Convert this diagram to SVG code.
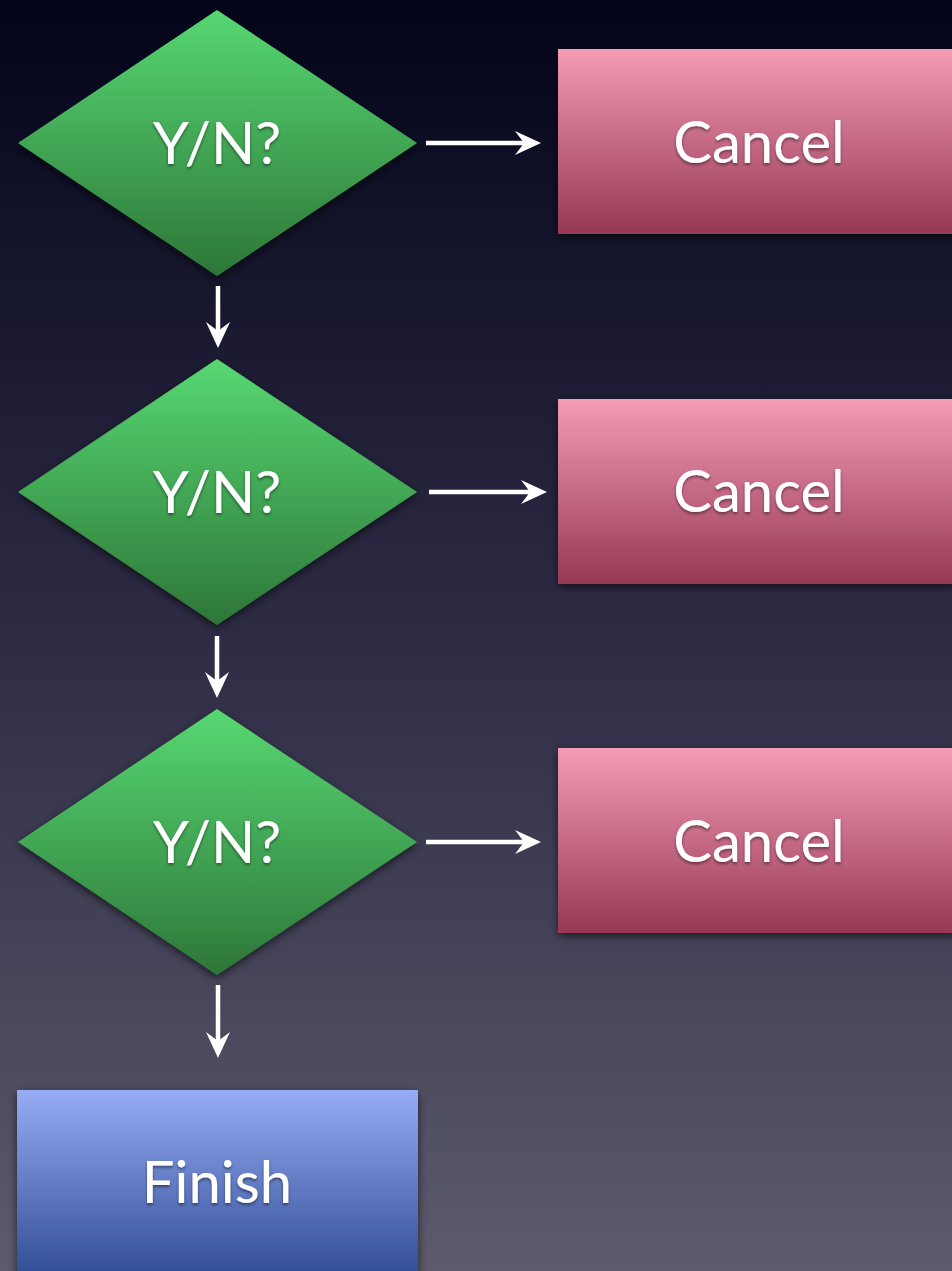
<svg xmlns="http://www.w3.org/2000/svg" width="952" height="1271" viewBox="0 0 952 1271">
<defs>
<linearGradient id="bg" x1="0" y1="0" x2="0" y2="1"><stop offset="0" stop-color="#03041a"/><stop offset="0.5" stop-color="#2e2c45"/><stop offset="1" stop-color="#5c5a6c"/></linearGradient>
<linearGradient id="gd" x1="0" y1="0" x2="0" y2="1"><stop offset="0" stop-color="#57d873"/><stop offset="1" stop-color="#2d7637"/></linearGradient>
<linearGradient id="rd" x1="0" y1="0" x2="0" y2="1"><stop offset="0" stop-color="#f49bb6"/><stop offset="1" stop-color="#963853"/></linearGradient>
<linearGradient id="bl" x1="0" y1="0" x2="0" y2="1"><stop offset="0" stop-color="#97acf4"/><stop offset="1" stop-color="#2e4b92"/></linearGradient>
<filter id="sh" x="-10%" y="-10%" width="120%" height="125%"><feDropShadow dx="0" dy="3" stdDeviation="4" flood-color="#000" flood-opacity="0.6"/></filter>
<filter id="ts" x="-10%" y="-20%" width="120%" height="140%"><feDropShadow dx="0" dy="2" stdDeviation="1.5" flood-color="#000" flood-opacity="0.45"/></filter>
<marker id="ah" markerWidth="26" markerHeight="24" refX="12" refY="12" orient="auto" markerUnits="userSpaceOnUse"><path d="M0,0 L26,12 L0,24 L9,12 Z" fill="#fff"/></marker>
</defs>
<style>
.t{font-family:"Lato","Open Sans",sans-serif;font-size:58px;fill:#fff;text-anchor:middle;filter:url(#ts)}
.c{stroke:#fff;stroke-width:4.5;fill:none;marker-end:url(#ah)}
</style>
<rect width="952" height="1271" fill="url(#bg)"/>
<g id="d1" filter="url(#sh)"><polygon points="217,10 417,143 217,276 18,143" fill="url(#gd)"/><text class="t" x="217" y="164">Y/N?</text></g>
<g id="d2" filter="url(#sh)"><polygon points="217,359 417,492 217,625 18,492" fill="url(#gd)"/><text class="t" x="217" y="513">Y/N?</text></g>
<g id="d3" filter="url(#sh)"><polygon points="217,709 417,842 217,975 18,842" fill="url(#gd)"/><text class="t" x="217" y="863">Y/N?</text></g>
<g id="c1" filter="url(#sh)"><rect x="558" y="49" width="400" height="185" fill="url(#rd)"/><text class="t" x="759" y="163">Cancel</text></g>
<g id="c2" filter="url(#sh)"><rect x="558" y="399" width="400" height="185" fill="url(#rd)"/><text class="t" x="759" y="512">Cancel</text></g>
<g id="c3" filter="url(#sh)"><rect x="558" y="748" width="400" height="185" fill="url(#rd)"/><text class="t" x="759" y="862">Cancel</text></g>
<g id="fin" filter="url(#sh)"><rect x="17" y="1090" width="401" height="190" fill="url(#bl)"/><text class="t" x="217" y="1203">Finish</text></g>
<g id="connectors">
<line class="c" x1="426" y1="143" x2="527" y2="143"/>
<line class="c" x1="429" y1="492" x2="533" y2="492"/>
<line class="c" x1="426" y1="842" x2="527" y2="842"/>
<line class="c" x1="218" y1="286" x2="218" y2="334"/>
<line class="c" x1="217" y1="636" x2="217" y2="684"/>
<line class="c" x1="218" y1="985" x2="218" y2="1044"/>
</g>
</svg>
